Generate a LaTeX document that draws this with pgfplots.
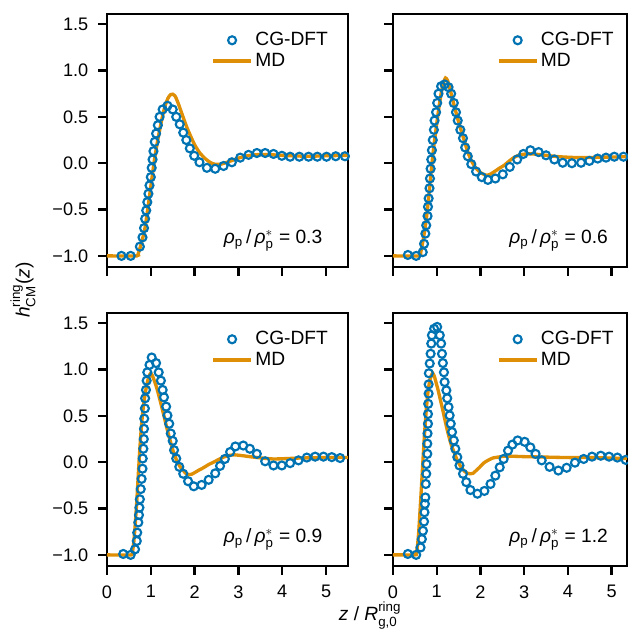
\documentclass[border=0pt]{standalone}
\usepackage{fontspec}
\setmainfont{Liberation Sans}
\usepackage{amsmath}
\usepackage{pgfplots}
\pgfplotsset{compat=1.18}
\usepgfplotslibrary{groupplots}
\definecolor{cbblue}{RGB}{1,115,178}
\definecolor{cborange}{RGB}{222,143,5}
\newcommand{\fs}{\fontsize{14.4}{17}\selectfont}
\newcommand{\tfs}{\fontsize{13.6}{16}\selectfont}
\newcommand{\lfs}{\fontsize{14.4}{17}\selectfont}
\newcommand{\rhoann}[1]{\textit{ρ}$_{\text{p}}$\,/\,\textit{ρ}$^{*}_{\text{p}}$ = #1}
\pgfplotsset{
  panel/.style={
    scale only axis, height=189.75pt,
    xmin=0, ymin=-1.12, ymax=1.61,
    xtick={0,1,2,3,4,5}, ytick={-1,-0.5,0,0.5,1,1.5},
    axis line style={line width=2pt, black},
    tick style={line width=1.8pt, black},
    tick align=outside, major tick length=6.5pt, tick pos=left,
    tick label style={font=\tfs},
    xticklabel style={yshift=-4.5pt},
    yticklabel style={xshift=-4pt},
    legend style={draw=none, fill=none, font=\lfs, anchor=north east,
      at={(axis cs:5.2,1.47)}, row sep=0pt,
      nodes={inner sep=2pt}},
    legend cell align=left,
    clip=true,
  },
  leftp/.style={panel, width=180.75pt, xmax=5.5},
  rightp/.style={panel, width=175.5pt, xmax=5.35, yticklabels={}},
  topp/.style={xticklabels={}},
  botp/.style={xticklabels={0,1,2,3,4,5}},
  ylab/.style={yticklabels={−1.0,−0.5,0.0,0.5,1.0,1.5}},
  dft/.style={only marks, mark=o, mark size=3pt, color=cbblue,
    mark options={line width=1.6pt},
    legend image code/.code={\draw[##1] plot[only marks] coordinates {(0.5cm,0cm)};}},
  md/.style={no marks, color=cborange, line width=2.5pt, smooth, tension=0.35,
    legend image code/.code={\draw[##1] (0cm,0cm) -- (1cm,0cm);}},
}
\begin{document}
\begin{tikzpicture}
\begin{groupplot}[group style={group size=2 by 2, horizontal sep=33.75pt, vertical sep=34.5pt}]
% ---------------- top left 0.3
\nextgroupplot[leftp, topp, ylab]
\addplot[dft] coordinates {(0.33,-1.0)(0.54,-1.0)(0.75,-0.90)(0.81,-0.80)(0.845,-0.70)(0.87,-0.60)(0.895,-0.51)(0.92,-0.42)(0.945,-0.33)(0.97,-0.24)(1.0,-0.15)(1.02,-0.05)(1.04,0.04)(1.06,0.13)(1.09,0.23)(1.12,0.32)(1.16,0.41)(1.20,0.50)(1.27,0.58)(1.38,0.62)(1.50,0.58)(1.58,0.50)(1.66,0.42)(1.74,0.33)(1.81,0.25)(1.89,0.16)(1.99,0.08)(2.11,0.01)(2.28,-0.05)(2.47,-0.06)(2.66,-0.03)(2.85,0.01)(3.04,0.06)(3.23,0.09)(3.42,0.11)(3.61,0.11)(3.80,0.10)(3.99,0.08)(4.18,0.07)(4.39,0.07)(4.60,0.07)(4.80,0.07)(5.01,0.07)(5.22,0.075)(5.43,0.075)};
\addlegendentry{CG-DFT}
\addplot[md] coordinates {(0,-1)(0.68,-1)(0.71,-0.98)(0.75,-0.92)(0.81,-0.82)(0.87,-0.69)(0.94,-0.46)(1.02,-0.18)(1.09,0.06)(1.17,0.28)(1.25,0.47)(1.32,0.61)(1.39,0.70)(1.45,0.74)(1.50,0.745)(1.56,0.72)(1.63,0.64)(1.72,0.52)(1.82,0.39)(1.92,0.28)(2.01,0.19)(2.12,0.11)(2.24,0.05)(2.35,0.01)(2.45,-0.01)(2.6,-0.01)(2.8,0.02)(3.0,0.055)(3.2,0.08)(3.5,0.095)(3.8,0.09)(4.2,0.08)(4.6,0.075)(5.0,0.08)(5.5,0.085)};
\addlegendentry{MD}
\node[anchor=east, font=\fs] at (axis cs:5.02,-0.83) {\rhoann{0.3}};
% ---------------- top right 0.6
\nextgroupplot[rightp, topp]
\addplot[dft] coordinates {(0.34,-0.99)(0.53,-1.0)(0.68,-0.96)(0.71,-0.87)(0.74,-0.76)(0.76,-0.67)(0.79,-0.57)(0.80,-0.47)(0.815,-0.38)(0.835,-0.27)(0.845,-0.165)(0.86,-0.06)(0.875,0.04)(0.89,0.14)(0.91,0.25)(0.935,0.36)(0.95,0.46)(0.985,0.55)(1.01,0.65)(1.04,0.75)(1.10,0.83)(1.18,0.85)(1.27,0.82)(1.33,0.75)(1.39,0.65)(1.44,0.55)(1.48,0.46)(1.54,0.36)(1.60,0.27)(1.65,0.17)(1.71,0.075)(1.79,-0.01)(1.90,-0.09)(2.03,-0.15)(2.17,-0.18)(2.34,-0.165)(2.51,-0.12)(2.67,-0.04)(2.84,0.04)(2.98,0.10)(3.14,0.14)(3.33,0.12)(3.50,0.085)(3.69,0.04)(3.88,0.005)(4.09,0.0)(4.30,0.005)(4.49,0.025)(4.68,0.05)(4.87,0.06)(5.06,0.07)(5.27,0.07)};
\addlegendentry{CG-DFT}
\addplot[md] coordinates {(0,-1)(0.6,-1)(0.63,-0.97)(0.66,-0.9)(0.70,-0.80)(0.76,-0.61)(0.82,-0.35)(0.875,-0.075)(0.93,0.17)(0.99,0.39)(1.05,0.60)(1.10,0.75)(1.15,0.86)(1.20,0.92)(1.25,0.89)(1.33,0.75)(1.40,0.62)(1.48,0.48)(1.56,0.35)(1.64,0.23)(1.71,0.12)(1.79,0.03)(1.86,-0.03)(1.94,-0.075)(2.03,-0.11)(2.13,-0.13)(2.22,-0.12)(2.32,-0.09)(2.43,-0.055)(2.55,-0.02)(2.66,0.025)(2.78,0.065)(2.9,0.09)(3.05,0.10)(3.2,0.10)(3.5,0.085)(3.8,0.07)(4.26,0.06)(4.8,0.065)(5.35,0.07)};
\addlegendentry{MD}
\node[anchor=east, font=\fs] at (axis cs:5.02,-0.83) {\rhoann{0.6}};
% ---------------- bottom left 0.9
\nextgroupplot[leftp, botp, ylab]
\addplot[dft] coordinates {(0.37,-0.99)(0.54,-1.0)(0.64,-0.94)(0.68,-0.85)(0.69,-0.76)(0.715,-0.65)(0.73,-0.57)(0.74,-0.49)(0.75,-0.40)(0.77,-0.29)(0.79,-0.18)(0.81,-0.07)(0.815,0.04)(0.83,0.145)(0.84,0.25)(0.845,0.36)(0.85,0.47)(0.865,0.58)(0.87,0.69)(0.89,0.78)(0.905,0.88)(0.92,0.97)(0.97,1.05)(1.02,1.13)(1.12,1.07)(1.18,0.97)(1.23,0.88)(1.27,0.78)(1.30,0.70)(1.35,0.60)(1.38,0.505)(1.42,0.415)(1.455,0.31)(1.50,0.23)(1.53,0.13)(1.58,0.04)(1.65,-0.05)(1.74,-0.125)(1.85,-0.205)(1.98,-0.26)(2.16,-0.245)(2.32,-0.19)(2.47,-0.12)(2.58,-0.04)(2.69,0.035)(2.81,0.11)(2.93,0.17)(3.11,0.18)(3.26,0.145)(3.42,0.09)(3.61,0.01)(3.80,-0.035)(3.99,-0.035)(4.18,-0.01)(4.37,0.02)(4.56,0.05)(4.75,0.06)(4.94,0.06)(5.13,0.055)(5.32,0.045)};
\addlegendentry{CG-DFT}
\addplot[md] coordinates {(0,-1)(0.55,-1)(0.58,-0.97)(0.61,-0.87)(0.64,-0.70)(0.68,-0.42)(0.715,-0.125)(0.75,0.15)(0.79,0.415)(0.84,0.64)(0.89,0.79)(0.94,0.90)(0.98,0.95)(1.0,0.96)(1.03,0.94)(1.08,0.88)(1.13,0.81)(1.21,0.67)(1.29,0.52)(1.36,0.38)(1.44,0.235)(1.51,0.12)(1.59,0.02)(1.67,-0.05)(1.74,-0.09)(1.80,-0.12)(1.86,-0.133)(1.93,-0.13)(2.01,-0.11)(2.10,-0.085)(2.20,-0.06)(2.32,-0.025)(2.43,0.0)(2.55,0.03)(2.66,0.055)(2.81,0.075)(2.90,0.08)(3.1,0.07)(3.34,0.055)(3.8,0.035)(4.4,0.045)(5.0,0.05)(5.5,0.05)};
\addlegendentry{MD}
\node[anchor=east, font=\fs] at (axis cs:5.02,-0.83) {\rhoann{0.9}};
% ---------------- bottom right 1.2
\nextgroupplot[rightp, botp]
\addplot[dft] coordinates {(0.34,-0.99)(0.53,-1.0)(0.63,-0.92)(0.66,-0.83)(0.685,-0.74)(0.71,-0.64)(0.72,-0.54)(0.73,-0.45)(0.74,-0.38)(0.75,-0.235)(0.76,-0.125)(0.765,-0.02)(0.785,0.09)(0.785,0.20)(0.79,0.31)(0.80,0.415)(0.80,0.52)(0.805,0.63)(0.815,0.74)(0.815,0.84)(0.82,0.96)(0.84,1.065)(0.86,1.17)(0.875,1.28)(0.89,1.37)(0.94,1.44)(1.01,1.46)(1.07,1.37)(1.10,1.28)(1.12,1.17)(1.14,1.07)(1.165,0.97)(1.18,0.865)(1.22,0.775)(1.24,0.69)(1.27,0.595)(1.295,0.505)(1.32,0.415)(1.35,0.325)(1.39,0.235)(1.425,0.145)(1.47,0.055)(1.52,-0.035)(1.60,-0.125)(1.675,-0.215)(1.77,-0.30)(1.93,-0.34)(2.09,-0.31)(2.23,-0.235)(2.34,-0.145)(2.44,-0.055)(2.53,0.035)(2.63,0.125)(2.73,0.19)(2.85,0.235)(3.01,0.22)(3.14,0.16)(3.26,0.09)(3.40,0.02)(3.58,-0.05)(3.78,-0.09)(3.97,-0.06)(4.16,-0.005)(4.36,0.035)(4.55,0.06)(4.75,0.07)(4.94,0.06)(5.13,0.05)(5.32,0.025)};
\addlegendentry{CG-DFT}
\addplot[md] coordinates {(0,-1)(0.5,-1)(0.53,-0.99)(0.56,-0.9)(0.59,-0.74)(0.64,-0.35)(0.685,0.02)(0.72,0.30)(0.76,0.56)(0.80,0.76)(0.84,0.88)(0.88,0.94)(0.91,0.96)(0.95,0.92)(1.03,0.78)(1.08,0.68)(1.14,0.56)(1.20,0.43)(1.26,0.31)(1.33,0.19)(1.41,0.09)(1.48,0.01)(1.56,-0.055)(1.64,-0.10)(1.71,-0.12)(1.77,-0.125)(1.83,-0.12)(1.90,-0.09)(1.98,-0.055)(2.07,-0.01)(2.17,0.02)(2.28,0.045)(2.40,0.055)(2.55,0.065)(2.70,0.065)(3.0,0.06)(3.5,0.055)(4.0,0.05)(4.5,0.05)(5.0,0.045)(5.35,0.04)};
\addlegendentry{MD}
\node[anchor=east, font=\fs] at (axis cs:5.02,-0.83) {\rhoann{1.2}};
\end{groupplot}
\node[rotate=90, font=\fs] at ([shift={(-63pt,-207pt)}]group c1r1.north west) {\textit{h}$^{\text{ring}}_{\text{CM}}$(\textit{z})};
\node[font=\fs, inner sep=0pt] at ([shift={(197.25pt,-451pt)}]group c1r1.north west) {\textit{z} / \textit{R}$^{\text{ring}}_{\text{g,0}}$};
\pgfresetboundingbox
\path[use as bounding box] ([shift={(-80.25pt,10.5pt)}]group c1r1.north west) rectangle ++(471pt,-474.75pt);
\end{tikzpicture}
\end{document}
